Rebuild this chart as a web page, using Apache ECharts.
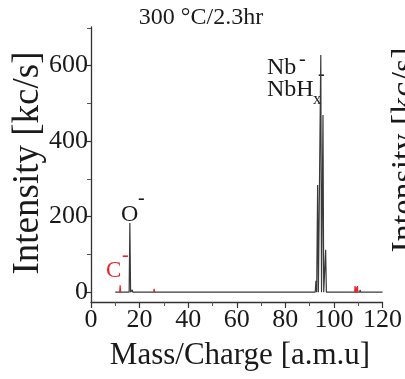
<!DOCTYPE html>
<html>
<head>
<meta charset="utf-8">
<script src="https://cdn.jsdelivr.net/npm/echarts@6/dist/echarts.min.js"></script>
<style>
  html, body { margin: 0; padding: 0; background: #ffffff; }
  #chart { width: 405px; height: 379px; }
</style>
</head>
<body>
<div id="chart"></div>
<script>
// Negative-ion SIMS spectrum, 300 °C / 2.3 hr
const titleText = '300 \u00B0C/2.3hr';
const xAxisName = 'Mass/Charge [a.m.u]';
const yAxisName = 'Intensity [kc/s]';
const xTickValues = [0, 20, 40, 60, 80, 100, 120];
const yTickValues = [0, 200, 400, 600];
const yMinorTickValues = [100, 300, 500, 700];

// Main spectrum trace [mass, intensity kc/s]
const spectrumMain = [
  [10, 0], [15.7, 0], [16, 183], [16.3, 0],
  [16.8, 0], [17, 6], [17.2, 0],
  [92.3, 0], [92.6, 30], [92.9, 0],
  [93.0, 0], [93.3, 284], [93.6, 0],
  [94.3, 0], [94.6, 628], [94.9, 0],
  [95.2, 0], [95.5, 469], [95.8, 0],
  [96.3, 0], [96.6, 112], [96.9, 0],
  [110.6, 0], [110.8, 6], [111.0, 0],
  [120, 0]
];

// Carbon-related peaks drawn in red ('-' breaks the line between peaks)
const spectrumCarbon = [
  [11.8, 0], [12, 18], [12.2, 0], [12.3, '-'],
  [25.8, 0], [26, 9], [26.2, 0], [26.3, '-'],
  [108.55, 0], [108.7, 16], [108.85, 0], [108.9, '-'],
  [109.05, 0], [109.2, 13], [109.35, 0], [109.4, '-'],
  [109.55, 0], [109.7, 16], [109.85, 0]
];

const serif = '"Liberation Serif", "DejaVu Serif", serif';
const ink = '#1a1a1a';
const red = '#e8262b';

const chart = echarts.init(document.getElementById('chart'), null, { renderer: 'canvas' });

function txt(text, x, y, size, color, extra) {
  return Object.assign({
    type: 'text', x: x, y: y, silent: true,
    style: {
      text: text, fill: color || ink, font: size + 'px ' + serif,
      textAlign: 'left', textVerticalAlign: 'middle'
    }
  }, extra || {});
}

chart.setOption({
  animation: false,
  backgroundColor: '#ffffff',
  grid: { left: 91, right: 16, top: 27, bottom: 77, containLabel: false },
  xAxis: {
    type: 'value', min: 0, max: 120, interval: 20,
    axisLine: { onZero: false, lineStyle: { color: '#333', width: 1.3 } },
    axisTick: { length: 6, lineStyle: { color: '#333', width: 1.2 } },
    minorTick: { show: true, splitNumber: 2, length: 4, lineStyle: { color: '#555' } },
    axisLabel: { fontFamily: serif, fontSize: 26, color: ink, margin: 5,
      formatter: v => xTickValues.includes(v) ? String(v) : '' },
    splitLine: { show: false }
  },
  yAxis: [{
    type: 'value', min: -26, max: 702,
    axisLine: { show: true, lineStyle: { color: '#333', width: 1.3 } },
    axisTick: { show: true, customValues: yTickValues, length: 6, lineStyle: { color: '#333', width: 1.2 } },
    axisLabel: { customValues: yTickValues, fontFamily: serif, fontSize: 26, color: ink, margin: 3 },
    splitLine: { show: false }
  }, {
    type: 'value', min: -26, max: 702, position: 'left',
    axisLine: { show: false },
    axisTick: { show: true, customValues: yMinorTickValues, length: 4, lineStyle: { color: '#555' } },
    axisLabel: { show: false },
    splitLine: { show: false }
  }],
  series: [{
    type: 'line', data: spectrumMain, yAxisIndex: 0,
    symbol: 'none', lineStyle: { color: '#3a3a3a', width: 1.2 }, z: 3
  }, {
    type: 'line', data: spectrumCarbon, yAxisIndex: 0, connectNulls: false,
    symbol: 'none', lineStyle: { color: red, width: 1.2 }, z: 4
  }],
  graphic: [
    // title
    { type: 'text', x: 201, y: 18, silent: true,
      style: { text: titleText, fill: ink, font: '24px ' + serif, textAlign: 'center', textVerticalAlign: 'middle' } },
    // axis titles
    { type: 'text', x: 240, y: 356, silent: true,
      style: { text: xAxisName, fill: ink, font: '31px ' + serif, textAlign: 'center', textVerticalAlign: 'middle' } },
    { type: 'text', x: 28, y: 163, rotation: Math.PI / 2, silent: true,
      style: { text: yAxisName, fill: ink, font: '37px ' + serif, textAlign: 'center', textVerticalAlign: 'middle' } },
    // neighbouring panel's axis title, clipped by the right edge
    { type: 'text', x: 405, y: 150, rotation: Math.PI / 2, silent: true,
      style: { text: yAxisName, fill: ink, font: '34px ' + serif, textAlign: 'center', textVerticalAlign: 'middle' } },
    // peak labels
    txt('O', 121, 215, 24),
    txt('-', 138, 199, 20),
    txt('C', 106, 271, 23, red),
    txt('-', 122, 256, 20, red),
    txt('Nb', 267, 68, 24),
    txt('-', 299, 60, 20),
    txt('NbH', 267, 90, 24),
    txt('x', 313, 100, 17),
    txt('-', 318, 75, 20)
  ]
});
</script>
</body>
</html>
